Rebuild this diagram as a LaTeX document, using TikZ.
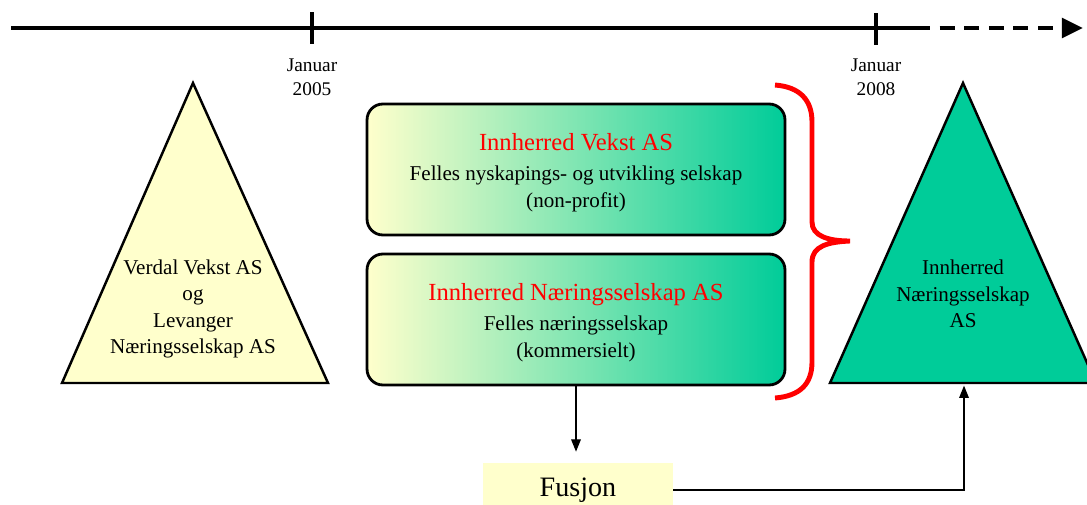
\documentclass[tikz,border=0pt]{standalone}
\usepackage{fontspec}
\setmainfont{Liberation Serif}
\usetikzlibrary{arrows.meta}

\definecolor{paleyellow}{RGB}{255,255,204}
\definecolor{seagreen}{RGB}{0,204,153}
\definecolor{midgreen}{RGB}{185,233,183}

\begin{document}
\begin{tikzpicture}[x=0.02cm, y=-0.02cm,
   panel/.style={draw, line width=1.6pt, rounded corners=9pt, left color=paleyellow, middle color=midgreen, right color=seagreen,
      minimum width=8.36cm, minimum height=2.62cm, inner sep=0pt, align=center, font=\fontsize{12}{15.3}\selectfont},
   datelabel/.style={align=center, font=\fontsize{11}{13.6}\selectfont},
   tritext/.style={align=center, font=\fontsize{12}{15.1}\selectfont},
   conn/.style={line width=0.7pt, -{Triangle[length=7pt,width=5.5pt]}}]
   \useasboundingbox (0,0) rectangle (1087,504);
   % Time axis, solid up to 2008 and dashed after
   \draw[line width=2.5pt] (11,28) -- (915,28);
   \draw[line width=2.5pt, dash pattern=on 8.5pt off 5.5pt, -{Triangle[length=12pt,width=11pt]}] (915,28) -- (1083,28);
   % Ticks with dates
   \draw[line width=2pt] (312,12) -- (312,44);
   \draw[line width=2pt] (876,13) -- (876,45);
   \node[datelabel] (jan05) at (312,77) {Januar\\2005};
   \node[datelabel] (jan08) at (876,77) {Januar\\2008};
   % Left triangle: the two old companies
   \filldraw[fill=paleyellow, line width=1.4pt] (193,83) -- (328,383) -- (62,383) -- cycle;
   \node[tritext] (oldco) at (193,309) {Verdal Vekst AS\\og\\Levanger\\Næringsselskap AS};
   % Right triangle: the merged company
   \filldraw[fill=seagreen, line width=1.4pt] (963,83) -- (1096,383) -- (830,383) -- cycle;
   \coordinate (newbase) at (964,383);
   \node[tritext] (newco) at (963,294) {Innherred\\Næringsselskap\\AS};
   % The two joint companies
   \node[panel] (vekst) at (576,169.5) {\rule{0pt}{13.5pt}{\color{red}\fontsize{14}{17}\selectfont Innherred Vekst AS}\\[1.7pt]
      Felles nyskapings- og utvikling selskap\\(non-profit)};
   \node[panel] (naering) at (576,319.5) {\rule{0pt}{13.5pt}{\color{red}\fontsize{14}{17}\selectfont Innherred Næringsselskap AS}\\[1.7pt]
      Felles næringsselskap\\(kommersielt)};
   % Red brace round both boxes
   \draw[red, line width=2.8pt] (775,85) .. controls (800,87) and (812,100) .. (812,122) -- (812,222)
      .. controls (812,236) and (828,241) .. (850,241) .. controls (828,242) and (812,246) .. (812,262)
      -- (812,362) .. controls (812,384) and (800,396) .. (775,398);
   % Merger
   \node[fill=paleyellow, minimum width=3.8cm, minimum height=1.08cm, font=\fontsize{16}{19}\selectfont] (fusjon) at (578,490) {Fusjon};
   \draw[conn, shorten >=0.22cm] (naering.south) -- (naering.south |- fusjon.north);
   \draw[conn, shorten >=1.5pt] (fusjon.east) -| (newbase);
\end{tikzpicture}
\end{document}
